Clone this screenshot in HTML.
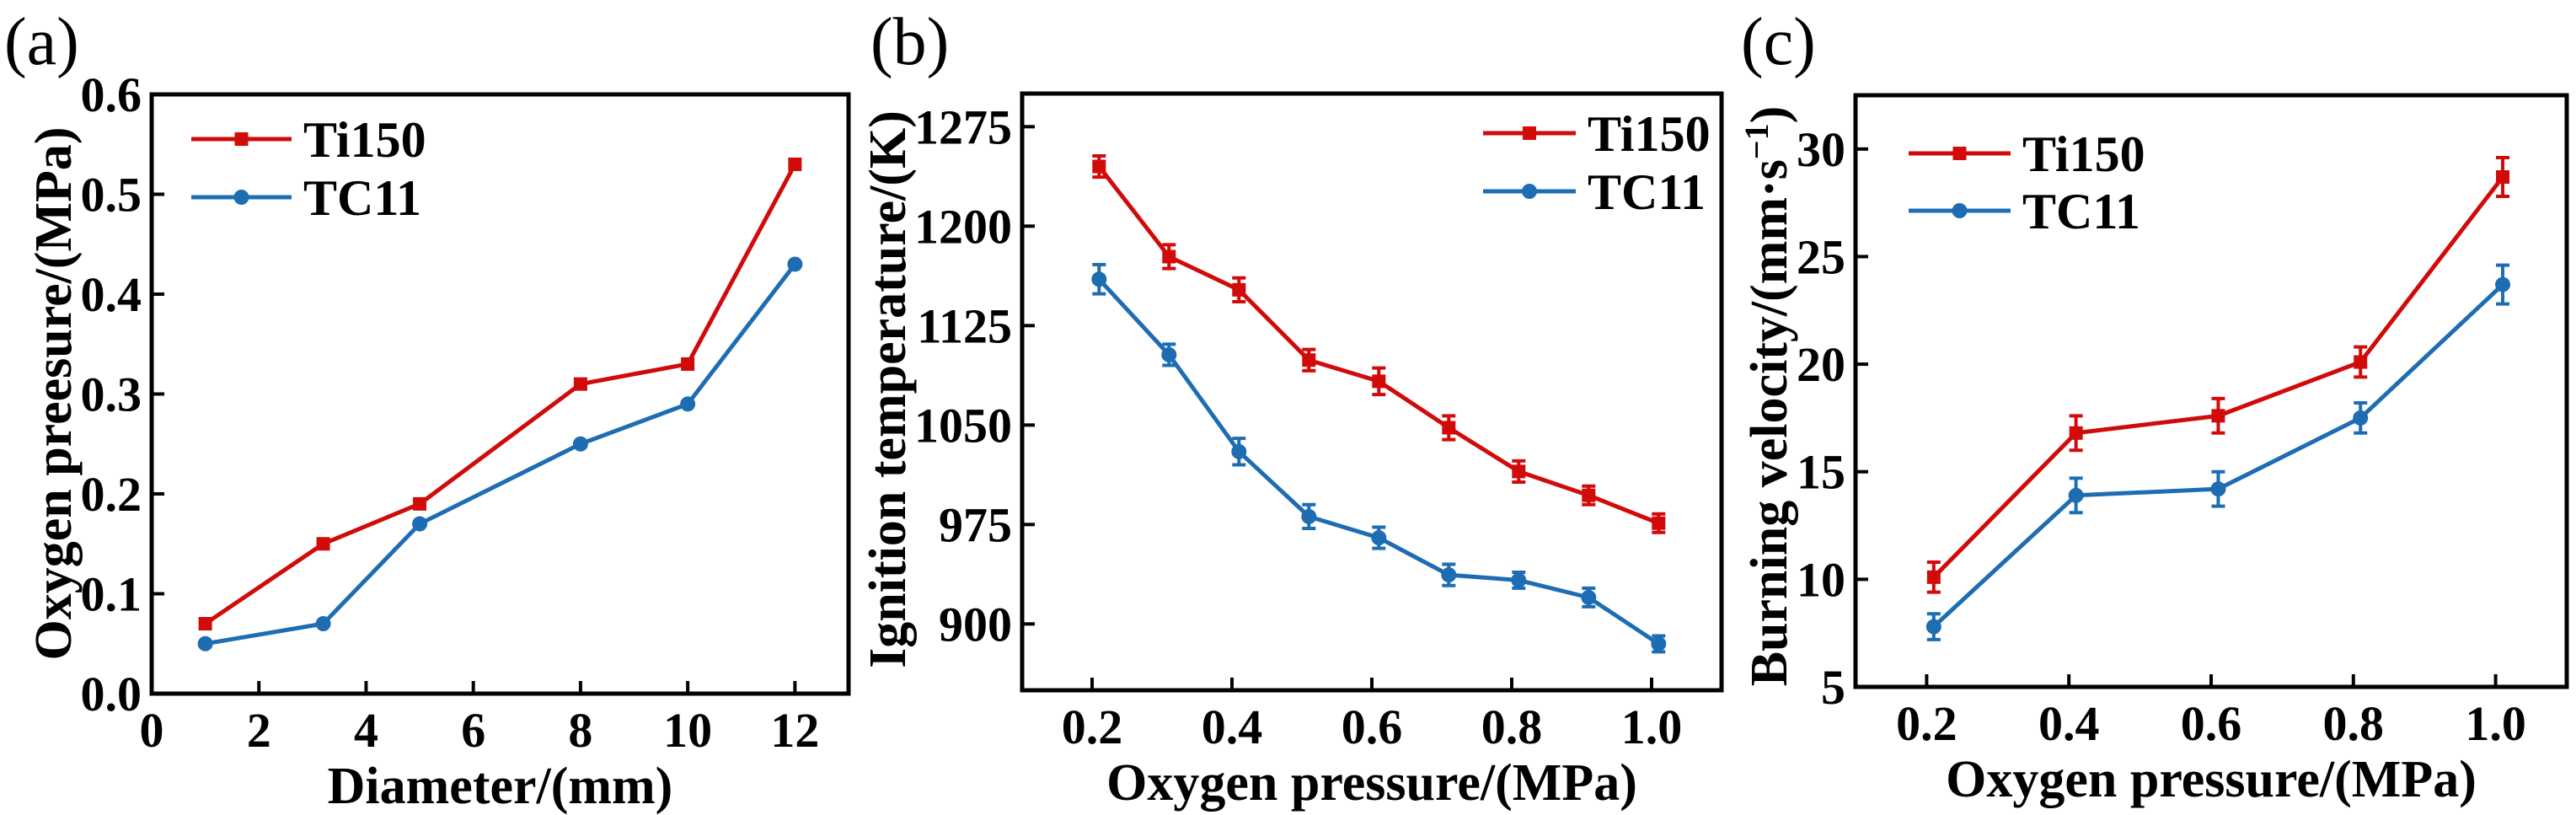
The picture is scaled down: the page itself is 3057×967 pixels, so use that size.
<!DOCTYPE html>
<html><head><meta charset="utf-8">
<style>
html,body{margin:0;padding:0;background:#fff;}
svg{display:block;font-family:"Liberation Serif",serif;}
</style></head>
<body>
<svg id="fig" width="3057" height="967" viewBox="0 0 3057 967" xmlns="http://www.w3.org/2000/svg" font-family="Liberation Serif, serif"></svg>
<script>
// Panel (a)
const aX = [1, 3.2, 5, 8, 10, 12];
const aTi150 = [0.07, 0.15, 0.19, 0.31, 0.33, 0.53];
const aTC11 = [0.05, 0.07, 0.17, 0.25, 0.29, 0.43];
const aXTicks = [0, 2, 4, 6, 8, 10, 12];
const aXTickLabels = ["0", "2", "4", "6", "8", "10", "12"];
const aYTicks = [0, 0.1, 0.2, 0.3, 0.4, 0.5, 0.6];
const aYTickLabels = ["0.0", "0.1", "0.2", "0.3", "0.4", "0.5", "0.6"];
// Panel (b)
const bX = [0.21, 0.31, 0.41, 0.51, 0.61, 0.71, 0.81, 0.91, 1.01];
const bTi150 = [1245, 1177, 1152, 1099, 1083, 1048, 1015, 997, 976];
const bTi150Err = [8, 9, 9, 8, 10, 9, 8, 7, 7];
const bTC11 = [1160, 1103, 1030, 981, 965, 937, 933, 920, 885];
const bTC11Err = [11, 8, 10, 9, 8, 8, 6, 7, 6];
const bXTicks = [0.2, 0.4, 0.6, 0.8, 1.0];
const bXTickLabels = ["0.2", "0.4", "0.6", "0.8", "1.0"];
const bYTicks = [900, 975, 1050, 1125, 1200, 1275];
const bYTickLabels = ["900", "975", "1050", "1125", "1200", "1275"];
// Panel (c)
const cX = [0.21, 0.41, 0.61, 0.81, 1.01];
const cTi150 = [10.1, 16.8, 17.6, 20.1, 28.7];
const cTi150Err = [0.7, 0.8, 0.8, 0.7, 0.9];
const cTC11 = [7.8, 13.9, 14.2, 17.5, 23.7];
const cTC11Err = [0.6, 0.8, 0.8, 0.7, 0.9];
const cXTicks = [0.2, 0.4, 0.6, 0.8, 1.0];
const cXTickLabels = ["0.2", "0.4", "0.6", "0.8", "1.0"];
const cYTicks = [5, 10, 15, 20, 25, 30];
const cYTickLabels = ["5", "10", "15", "20", "25", "30"];

const RED = "#d10a0a", BLUE = "#1e6db3";
const svg = document.getElementById('fig');
const NS = "http://www.w3.org/2000/svg";
function mk(tag, attrs, parent) {
  const e = document.createElementNS(NS, tag);
  for (const k in attrs) e.setAttribute(k, attrs[k]);
  (parent || svg).appendChild(e);
  return e;
}

function panel(p) {
  const g = mk('g', {});
  
  
  const sx = v => p.L + (v - p.xmin) / (p.xmax - p.xmin) * (p.R - p.L);
  const sy = v => p.B - (v - p.ymin) / (p.ymax - p.ymin) * (p.B - p.T);
  const pl = mk('text', {x: p.labX, y: 76, 'font-size': 80, fill: '#000'}, g);
  pl.textContent = p.label;
  
  
  p.xTicks.forEach((t, i) => {
    const x = sx(t);
    const tk = mk('line', {x1: x, x2: x, y1: p.B, y2: p.B - 15, stroke: '#000', 'stroke-width': 4}, g);
    
    
    const tl = mk('text', {x: x, y: p.B + 63, 'font-size': 58, 'font-weight': 'bold', 'text-anchor': 'middle'}, g);
    tl.textContent = p.xTickLabels[i];
    
    
  });
  p.yTicks.forEach((t, i) => {
    const y = sy(t);
    const tk = mk('line', {x1: p.L, x2: p.L + 15, y1: y, y2: y, stroke: '#000', 'stroke-width': 4}, g);
    
    
    const tl = mk('text', {x: p.L - 12, y: y + 20, 'font-size': 58, 'font-weight': 'bold', 'text-anchor': 'end'}, g);
    tl.textContent = p.yTickLabels[i];
    
    
  });
  const fr = mk('rect', {x: p.L, y: p.T, width: p.R - p.L, height: p.B - p.T, fill: 'none', stroke: '#000', 'stroke-width': 5}, g);
  
  
  const xt = mk('text', {x: (p.L + p.R) / 2, y: p.B + 130, 'font-size': 62, 'font-weight': 'bold', 'text-anchor': 'middle'}, g);
  xt.textContent = p.xTitle;
  
  
  const yt = mk('text', {x: 0, y: 0, 'font-size': 62, 'font-weight': 'bold', 'text-anchor': 'middle', transform: `translate(${p.yTitleX},${p.yTitleY}) rotate(-90)`}, g);
  yt.innerHTML = p.yTitle;
  
  
  p.series.forEach(s => {
    const sg = mk('g', {}, g);
    
    
    const pts = s.y.map((v, i) => sx(p.x[i]) + ',' + sy(v)).join(' ');
    const ln = mk('polyline', {points: pts, fill: 'none', stroke: s.color, 'stroke-width': 5, 'stroke-linejoin': 'round'}, sg);
    
    
    s.y.forEach((v, i) => {
      const cx = sx(p.x[i]), cy = sy(v);
      if (s.err) {
        const e = s.err[i];
        const y1 = sy(v + e), y2 = sy(v - e);
        const eb = mk('path', {d: `M${cx},${y1}V${y2}M${cx - 8},${y1}H${cx + 8}M${cx - 8},${y2}H${cx + 8}`, stroke: s.color, 'stroke-width': 4, fill: 'none'}, sg);
        
        
      }
      let m;
      if (s.shape === 'square') m = mk('rect', {x: cx - 8, y: cy - 8, width: 16, height: 16, fill: s.color}, sg);
      else m = mk('circle', {cx: cx, cy: cy, r: 9, fill: s.color}, sg);
      
      
    });
  });
  p.series.forEach((s, i) => {
    const ly = p.legY[i];
    const lg = mk('g', {}, g);
    
    
    mk('line', {x1: p.legX1, x2: p.legX2, y1: ly, y2: ly, stroke: s.color, 'stroke-width': 5}, lg);
    const mx = (p.legX1 + p.legX2) / 2;
    if (s.shape === 'square') mk('rect', {x: mx - 8, y: ly - 8, width: 16, height: 16, fill: s.color}, lg);
    else mk('circle', {cx: mx, cy: ly, r: 9, fill: s.color}, lg);
    const t = mk('text', {x: p.legX2 + 14, y: ly + 21, 'font-size': 60, 'font-weight': 'bold'}, lg);
    t.textContent = s.label;
  });
}

panel({name: 'panel-a', label: '(a)', labX: 5, L: 180, R: 1007, T: 112, B: 823,
  xmin: 0, xmax: 13, ymin: 0, ymax: 0.6,
  xTicks: aXTicks, xTickLabels: aXTickLabels, yTicks: aYTicks, yTickLabels: aYTickLabels,
  xTitle: 'Diameter/(mm)', yTitle: 'Oxygen preesure/(MPa)', yTitleX: 84, yTitleY: 467,
  x: aX,
  series: [{key: 'ti150', label: 'Ti150', y: aTi150, color: RED, shape: 'square'},
           {key: 'tc11', label: 'TC11', y: aTC11, color: BLUE, shape: 'circle'}],
  legX1: 227, legX2: 346, legY: [165, 234]});

panel({name: 'panel-b', label: '(b)', labX: 1033, L: 1213, R: 2043, T: 111, B: 819,
  xmin: 0.1, xmax: 1.1, ymin: 850, ymax: 1300,
  xTicks: bXTicks, xTickLabels: bXTickLabels, yTicks: bYTicks, yTickLabels: bYTickLabels,
  xTitle: 'Oxygen pressure/(MPa)', yTitle: 'Ignition temperature/(K)', yTitleX: 1074, yTitleY: 462,
  x: bX,
  series: [{key: 'ti150', label: 'Ti150', y: bTi150, err: bTi150Err, color: RED, shape: 'square'},
           {key: 'tc11', label: 'TC11', y: bTC11, err: bTC11Err, color: BLUE, shape: 'circle'}],
  legX1: 1760, legX2: 1870, legY: [158, 227]});

panel({name: 'panel-c', label: '(c)', labX: 2066, L: 2202, R: 3046, T: 113, B: 815,
  xmin: 0.1, xmax: 1.1, ymin: 5, ymax: 32.5,
  xTicks: cXTicks, xTickLabels: cXTickLabels, yTicks: cYTicks, yTickLabels: cYTickLabels,
  xTitle: 'Oxygen pressure/(MPa)', yTitle: 'Burning velocity/(mm·s<tspan dy="-22" font-size="40">−1</tspan><tspan dy="22">)</tspan>', yTitleX: 2120, yTitleY: 470,
  x: cX,
  series: [{key: 'ti150', label: 'Ti150', y: cTi150, err: cTi150Err, color: RED, shape: 'square'},
           {key: 'tc11', label: 'TC11', y: cTC11, err: cTC11Err, color: BLUE, shape: 'circle'}],
  legX1: 2265, legX2: 2386, legY: [182, 250]});
</script>
</body></html>
